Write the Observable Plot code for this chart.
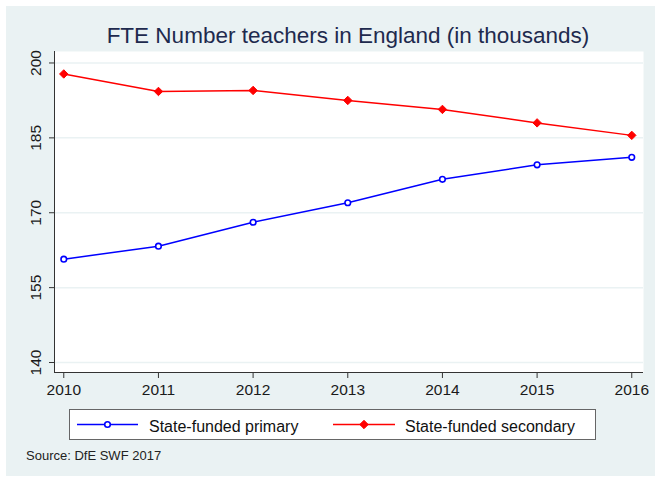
<!DOCTYPE html>
<html>
<head>
<meta charset="utf-8">
<script src="https://cdn.jsdelivr.net/npm/d3@7"></script>
<script src="https://cdn.jsdelivr.net/npm/@observablehq/plot@0.6"></script>
<style>
  body { margin: 0; background: #fff; font-family: "Liberation Sans", Arial, sans-serif; }
  #root { position: relative; width: 655px; height: 478px; overflow: hidden; background: #fff; }
  #bg { position: absolute; left: 6px; top: 6px; width: 649px; height: 470px; background: #eaf2f3; }
  #title { position: absolute; left: 0; width: 696px; top: 25px; text-align: center;
           font-size: 22.5px; line-height: 22.5px; color: #1e2a4e; white-space: nowrap; }
  #chart { position: absolute; left: 0; top: 0; }
  #legend { position: absolute; left: 69px; top: 409px; }
  #source { position: absolute; left: 26px; top: 449px; font-size: 13px; line-height: 13px; color: #222; white-space: nowrap; }
</style>
</head>
<body>
<div id="root">
  <div id="bg"></div>
  <div id="title"></div>
  <div id="chart"></div>
  <div id="legend"></div>
  <div id="source"></div>
</div>
<script>
// ---- data ----
const titleText = "FTE Number teachers in England (in thousands)";
const sourceText = "Source: DfE SWF 2017";
const years = [2010, 2011, 2012, 2013, 2014, 2015, 2016];
const primary = [160.7, 163.3, 168.1, 172.0, 176.7, 179.6, 181.1];
const secondary = [197.8, 194.3, 194.5, 192.5, 190.7, 188.0, 185.5];
const seriesNames = ["State-funded primary", "State-funded secondary"];
const seriesColors = ["#0000ff", "#ff0000"];
const yTicks = [140, 155, 170, 185, 200];

const rows = [];
years.forEach((yr, i) => {
  rows.push({year: yr, value: primary[i], series: seriesNames[0]});
  rows.push({year: yr, value: secondary[i], series: seriesNames[1]});
});
const prim = rows.filter(d => d.series === seriesNames[0]);
const sec = rows.filter(d => d.series === seriesNames[1]);

document.getElementById("title").textContent = titleText;
document.getElementById("source").textContent = sourceText;

const xDomain = [2009.902, 2016.124];
const yDomain = [138, 202.3];
const gridColor = "#eaf2f3";
const axisColor = "#333";

const chart = Plot.plot({
  width: 655,
  height: 400,
  marginLeft: 54,
  marginRight: 12,
  marginTop: 51,
  marginBottom: 28,
  style: {background: "transparent", fontFamily: "Liberation Sans, Arial, sans-serif", color: "#222", overflow: "visible"},
  x: {type: "linear", domain: xDomain},
  y: {type: "linear", domain: yDomain},
  marks: [
    Plot.frame({fill: "white", stroke: null}),
    Plot.gridY(yTicks, {stroke: gridColor, strokeOpacity: 1, strokeWidth: 1.5}),
    Plot.axisX({ticks: years, tickFormat: d => String(d), tickSize: 6, tickPadding: 5, fontSize: 15.5, stroke: axisColor, fill: "#1a1a1a", label: null}),
    Plot.axisY({ticks: yTicks, tickFormat: () => "", tickSize: 5, stroke: axisColor, label: null}),
    Plot.text(yTicks, {y: d => d, frameAnchor: "left", dx: -18, rotate: -90, text: d => String(d), textAnchor: "middle", lineAnchor: "middle", fontSize: 15.5, fill: "#1a1a1a"}),
    Plot.ruleY([yDomain[0]], {stroke: axisColor, strokeWidth: 1}),
    Plot.ruleX([xDomain[0]], {stroke: axisColor, strokeWidth: 1}),
    Plot.line(prim, {x: "year", y: "value", stroke: seriesColors[0], strokeWidth: 1.5}),
    Plot.line(sec, {x: "year", y: "value", stroke: seriesColors[1], strokeWidth: 1.5}),
    Plot.dot(prim, {x: "year", y: "value", r: 2.8, stroke: seriesColors[0], strokeWidth: 1.6, fill: "white"}),
    Plot.dot(sec, {x: "year", y: "value", symbol: "diamond2", r: 3.8, stroke: seriesColors[1], strokeWidth: 1, fill: seriesColors[1]})
  ]
});
document.getElementById("chart").appendChild(chart);

// ---- legend ----
const lg = d3.select("#legend").append("svg").attr("width", 528).attr("height", 32);
lg.append("rect").attr("x", 0.5).attr("y", 0.5).attr("width", 526).attr("height", 30)
  .attr("fill", "white").attr("stroke", "#666").attr("stroke-width", 1);
const items = [
  {name: seriesNames[0], color: seriesColors[0], x0: 8, x1: 69, tx: 80, kind: "circle"},
  {name: seriesNames[1], color: seriesColors[1], x0: 264, x1: 326, tx: 336, kind: "diamond"}
];
items.forEach(it => {
  lg.append("line").attr("x1", it.x0).attr("x2", it.x1).attr("y1", 15.5).attr("y2", 15.5)
    .attr("stroke", it.color).attr("stroke-width", 1.5);
  const cx = (it.x0 + it.x1) / 2;
  if (it.kind === "circle") {
    lg.append("circle").attr("cx", cx).attr("cy", 15.5).attr("r", 2.8)
      .attr("fill", "white").attr("stroke", it.color).attr("stroke-width", 1.6);
  } else {
    lg.append("path").attr("transform", `translate(${cx},15.5)`)
      .attr("d", d3.symbol(d3.symbolDiamond2, Math.PI * 3.8 * 3.8)())
      .attr("fill", it.color).attr("stroke", it.color).attr("stroke-width", 1);
  }
  lg.append("text").attr("x", it.tx).attr("y", 23).text(it.name)
    .attr("font-family", "Liberation Sans, Arial, sans-serif").attr("font-size", 16).attr("fill", "#111");
});
</script>
</body>
</html>
